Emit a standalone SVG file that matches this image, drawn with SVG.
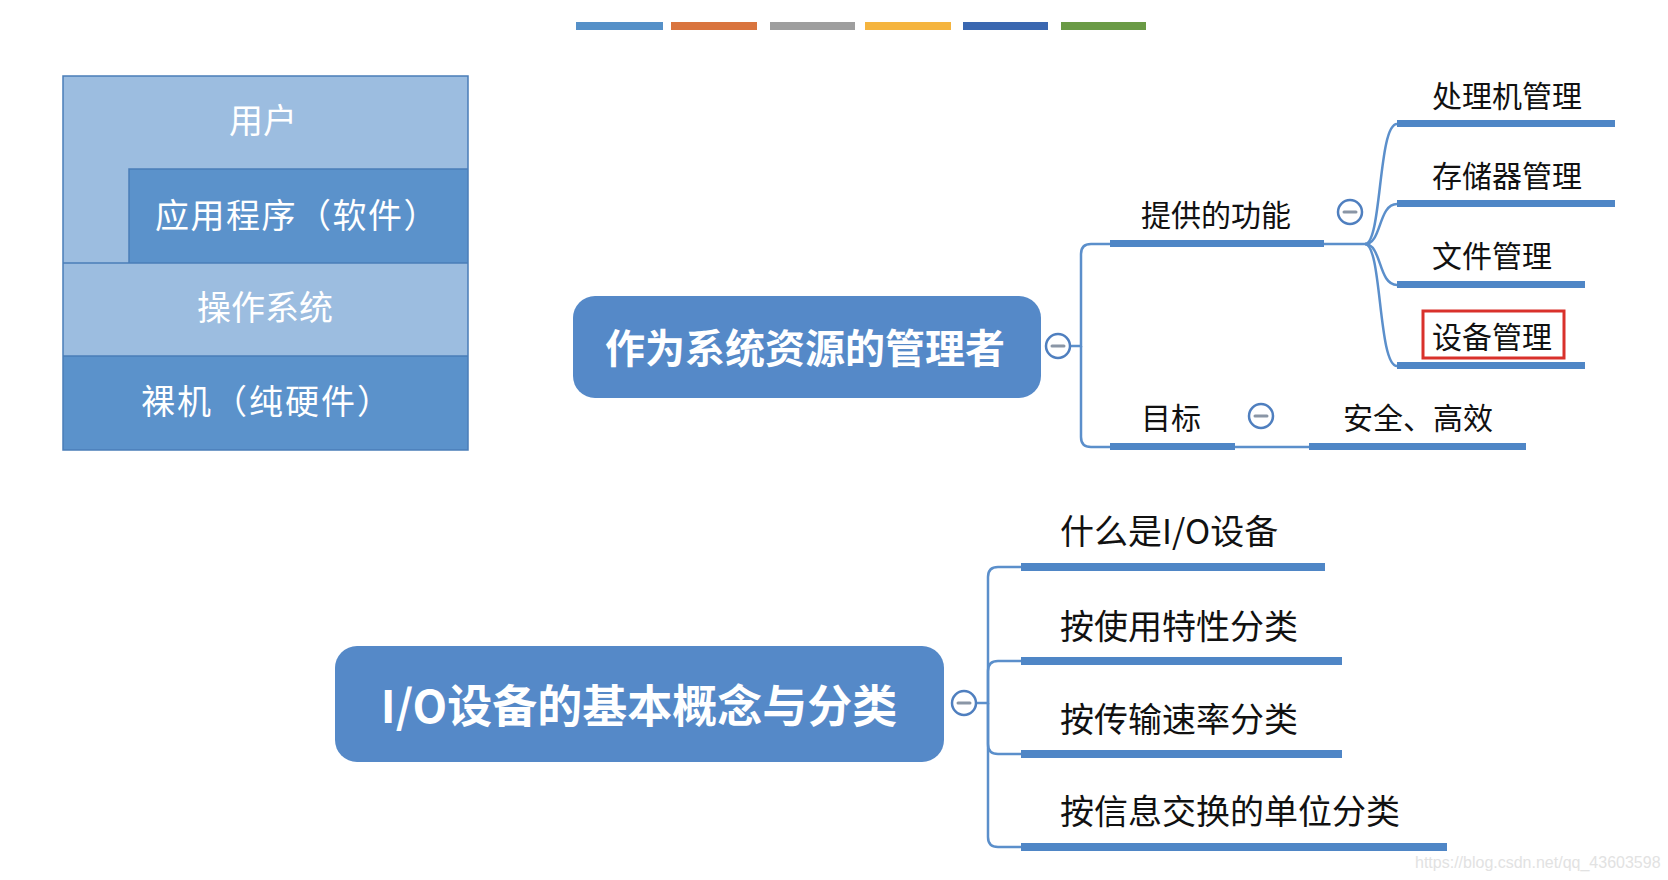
<svg xmlns="http://www.w3.org/2000/svg" width="1668" height="880" viewBox="0 0 1668 880">
<style>
.cjk{font-family:"Noto Sans CJK SC","Liberation Sans",sans-serif;}
.lay{font-size:34px;fill:#ffffff;text-anchor:middle;}
.main{font-weight:700;fill:#ffffff;text-anchor:middle;}
.t1{font-size:30px;fill:#111111;}
.t2{font-size:34px;fill:#111111;}
.ul{fill:#4f86c6;}
.conn{fill:none;stroke:#5b8fcb;stroke-width:2.5;}
.tog circle{fill:#ffffff;stroke:#4f7fbf;stroke-width:2.5;}
.tog line{stroke:#8a96a6;stroke-width:3;stroke-linecap:round;}
.light{fill:#9cbde0;}
.dark{fill:#5b92cb;}
</style>

<g id="colorbars">
<rect x="576" y="22" width="87" height="8" fill="#5590c8"/>
<rect x="671" y="22" width="86" height="8" fill="#d9743e"/>
<rect x="770" y="22" width="85" height="8" fill="#9e9e9e"/>
<rect x="865" y="22" width="86" height="8" fill="#f5b43e"/>
<rect x="963" y="22" width="85" height="8" fill="#3a67b0"/>
<rect x="1061" y="22" width="85" height="8" fill="#6a9a45"/>
</g>

<g id="layers">
<path class="light" d="M63 76 H468 V169 H129 V263 H63 Z"/>
<rect class="dark" x="129" y="169" width="339" height="94"/>
<rect class="light" x="63" y="263" width="405" height="93"/>
<rect class="dark" x="63" y="356" width="405" height="94"/>
<g fill="none" stroke="#4a7db8" stroke-width="1.5">
<rect x="63" y="76" width="405" height="374"/>
<path d="M129 263 V169 H468 M63 263 H468 M63 356 H468"/>
</g>
<text class="cjk lay" x="263" y="133">用户</text>
<text class="cjk lay" x="297" y="228" letter-spacing="1.5">应用程序（软件）</text>
<text class="cjk lay" x="265" y="320">操作系统</text>
<text class="cjk lay" x="267" y="414" letter-spacing="2">裸机（纯硬件）</text>
</g>

<g id="connectors">
<path class="conn" d="M1070 346 H1081 V254 Q1081 244 1091 244 H1110"/>
<path class="conn" d="M1081 346 V437 Q1081 447 1091 447 H1110"/>
<path class="conn" d="M1324 244 H1365"/>
<path class="conn" d="M1365 244 C1382 244 1378 124 1397 124"/>
<path class="conn" d="M1365 244 C1382 244 1378 204 1397 204"/>
<path class="conn" d="M1365 244 C1382 244 1378 285 1397 285"/>
<path class="conn" d="M1365 244 C1382 244 1378 366 1397 366"/>
<path class="conn" d="M1235 447 H1309"/>
<path class="conn" d="M976 703 H988 V577 Q988 567 998 567 H1021"/>
<path class="conn" d="M988 703 V671 Q988 661 998 661 H1021"/>
<path class="conn" d="M988 703 V744 Q988 754 998 754 H1021"/>
<path class="conn" d="M988 703 V837 Q988 847 998 847 H1021"/>
</g>

<g id="node-manager">
<rect x="573" y="296" width="468" height="102" rx="22" fill="#5589c8"/>
<text class="cjk main" x="805" y="363" font-size="40">作为系统资源的管理者</text>
<g class="tog"><circle cx="1058" cy="346" r="12"/><line x1="1052" y1="346" x2="1064" y2="346"/></g>
</g>

<g id="node-functions">
<rect class="ul" x="1110" y="240" width="214" height="7"/>
<text class="cjk t1" x="1141" y="226">提供的功能</text>
<g class="tog"><circle cx="1350" cy="212" r="12"/><line x1="1344" y1="212" x2="1356" y2="212"/></g>
</g>
<g id="node-cpu">
<rect class="ul" x="1397" y="120" width="218" height="7"/>
<text class="cjk t1" x="1432" y="107">处理机管理</text>
</g>
<g id="node-mem">
<rect class="ul" x="1397" y="200" width="218" height="7"/>
<text class="cjk t1" x="1432" y="187">存储器管理</text>
</g>
<g id="node-file">
<rect class="ul" x="1397" y="281" width="188" height="7"/>
<text class="cjk t1" x="1432" y="267">文件管理</text>
</g>
<g id="node-dev">
<rect class="ul" x="1397" y="362" width="188" height="7"/>
<rect x="1423" y="311" width="141" height="47" fill="none" stroke="#d9312b" stroke-width="3"/>
<text class="cjk t1" x="1432" y="348">设备管理</text>
</g>
<g id="node-goal">
<rect class="ul" x="1110" y="443" width="125" height="7"/>
<text class="cjk t1" x="1141" y="429">目标</text>
<g class="tog"><circle cx="1261" cy="416" r="12"/><line x1="1255" y1="416" x2="1267" y2="416"/></g>
</g>
<g id="node-safe">
<rect class="ul" x="1309" y="443" width="217" height="7"/>
<text class="cjk t1" x="1343" y="429">安全、高效</text>
</g>

<g id="node-io">
<rect x="335" y="646" width="609" height="116" rx="22" fill="#5589c8"/>
<text class="cjk main" x="639" y="723" font-size="45">I/O设备的基本概念与分类</text>
<g class="tog"><circle cx="964" cy="703" r="12"/><line x1="958" y1="703" x2="970" y2="703"/></g>
</g>
<g id="node-what">
<rect class="ul" x="1021" y="563" width="304" height="8"/>
<text class="cjk t2" x="1060" y="544">什么是I/O设备</text>
</g>
<g id="node-use">
<rect class="ul" x="1021" y="657" width="321" height="8"/>
<text class="cjk t2" x="1060" y="639">按使用特性分类</text>
</g>
<g id="node-speed">
<rect class="ul" x="1021" y="750" width="321" height="8"/>
<text class="cjk t2" x="1060" y="732">按传输速率分类</text>
</g>
<g id="node-unit">
<rect class="ul" x="1021" y="843" width="426" height="8"/>
<text class="cjk t2" x="1060" y="824">按信息交换的单位分类</text>
</g>

<text x="1415" y="868" font-family="Liberation Sans, Arial, sans-serif" font-size="16" fill="#e2e2e2">https://blog.csdn.net/qq_43603598</text>
</svg>
